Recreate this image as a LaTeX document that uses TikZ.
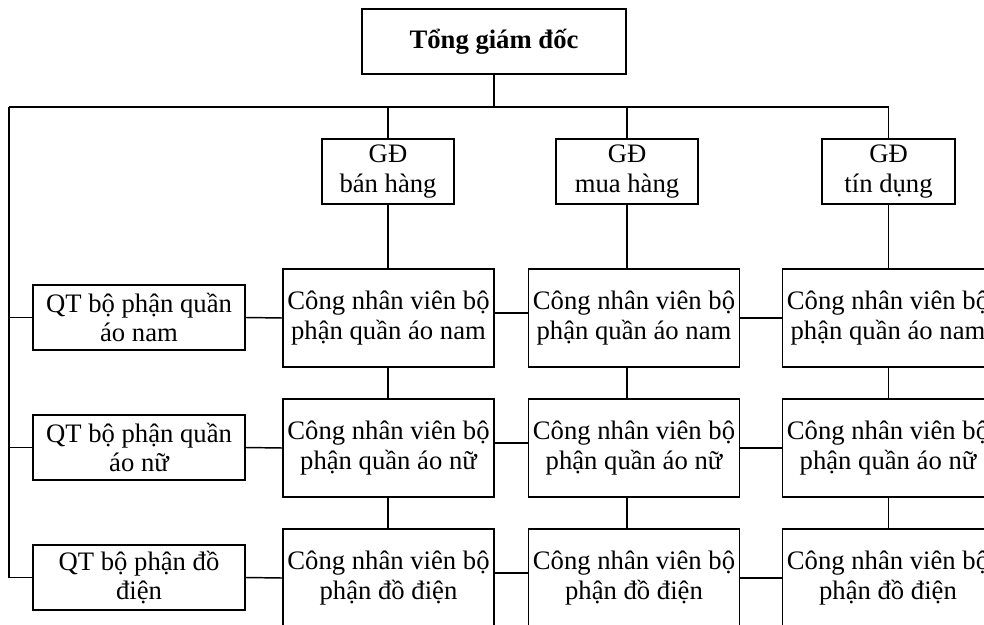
\documentclass[tikz,border=0pt]{standalone}
\usepackage{fontspec}
\setmainfont{Liberation Serif}
\begin{document}
\begin{tikzpicture}[x=0.75pt,y=-0.75pt,
  box/.style={draw,line width=1.4pt,rectangle,align=center,inner sep=0pt,
    font=\fontsize{20}{22}\selectfont},
  headbox/.style={box,minimum width=198pt,minimum height=48.75pt,font=\fontsize{20}{22}\selectfont\bfseries},
  gdbox/.style={box,minimum height=48.75pt},
  staffbox/.style={box,minimum width=158.25pt,minimum height=73.5pt},
  qtbox/.style={box,minimum width=159pt,minimum height=48.75pt},
  link/.style={draw,line width=1.1pt}]
\useasboundingbox (0,0) rectangle (984,624);
\clip (0,0) rectangle (984,624);

% top level
\node[headbox] (ceo) at (494,41.5) {Tổng giám đốc};

% directors
\node[gdbox,minimum width=99pt]    (gd1) at (388,171.5)   {GĐ\\bán hàng};
\node[gdbox,minimum width=106.5pt] (gd2) at (627,171.5)   {GĐ\\mua hàng};
\node[gdbox,minimum width=99.75pt] (gd3) at (888.5,171.5) {GĐ\\tín dụng};

% department managers
\node[qtbox] (qt1) at (139,317.5) {QT bộ phận quần\\áo nam};
\node[qtbox] (qt2) at (139,447.5) {QT bộ phận quần\\áo nữ};
\node[qtbox] (qt3) at (139,577.5) {QT bộ phận đồ\\điện};

% staff grid: rows = departments, columns = directors
\node[staffbox] (c11) at (388.5,318) {Công nhân viên bộ\\phận quần áo nam};
\node[staffbox] (c12) at (634,318)   {Công nhân viên bộ\\phận quần áo nam};
\node[staffbox] (c13) at (888,318)   {Công nhân viên bộ\\phận quần áo nam};
\node[staffbox] (c21) at (388.5,448) {Công nhân viên bộ\\phận quần áo nữ};
\node[staffbox] (c22) at (634,448)   {Công nhân viên bộ\\phận quần áo nữ};
\node[staffbox] (c23) at (888,448)   {Công nhân viên bộ\\phận quần áo nữ};
\node[staffbox] (c31) at (388.5,578) {Công nhân viên bộ\\phận đồ điện};
\node[staffbox] (c32) at (634,578)   {Công nhân viên bộ\\phận đồ điện};
\node[staffbox] (c33) at (888,578)   {Công nhân viên bộ\\phận đồ điện};

% main bus
\coordinate (busL) at (9,107);
\coordinate (busR) at (gd3.north |- busL);
\path[link] (ceo.south) -- (ceo.south |- busL);
\path[link] (busL) -- (busR);
\path[link] (gd1.north |- busL) -- (gd1.north);
\path[link] (gd2.north |- busL) -- (gd2.north);
\path[link] (busR) -- (gd3.north);

% left spine to managers
\path[link] (busL) |- (qt3.west);
\path[link] (busL |- qt1) -- (qt1.west);
\path[link] (busL |- qt2) -- (qt2.west);

% director columns
\path[link] (gd1.south) -- (gd1.south |- c11.north);
\path[link] (gd2.south) -- (gd2.south |- c12.north);
\path[link] (gd3.south) -- (gd3.south |- c13.north);
\path[link] (gd1 |- c11.south) -- (gd1 |- c21.north);
\path[link] (gd1 |- c21.south) -- (gd1 |- c31.north);
\path[link] (gd2 |- c12.south) -- (gd2 |- c22.north);
\path[link] (gd2 |- c22.south) -- (gd2 |- c32.north);
\path[link] (gd3 |- c13.south) -- (gd3 |- c23.north);
\path[link] (gd3 |- c23.south) -- (gd3 |- c33.north);

% department rows
\foreach \r in {1,2,3}{
  \path[link] (qt\r.east) -- (c\r1.west);
  \path[link] ([yshift=3.75pt]c\r1.east) -- ([yshift=3.75pt]c\r2.west);
  \path[link] (c\r2.east) -- (c\r3.west);
}
\end{tikzpicture}
\end{document}
